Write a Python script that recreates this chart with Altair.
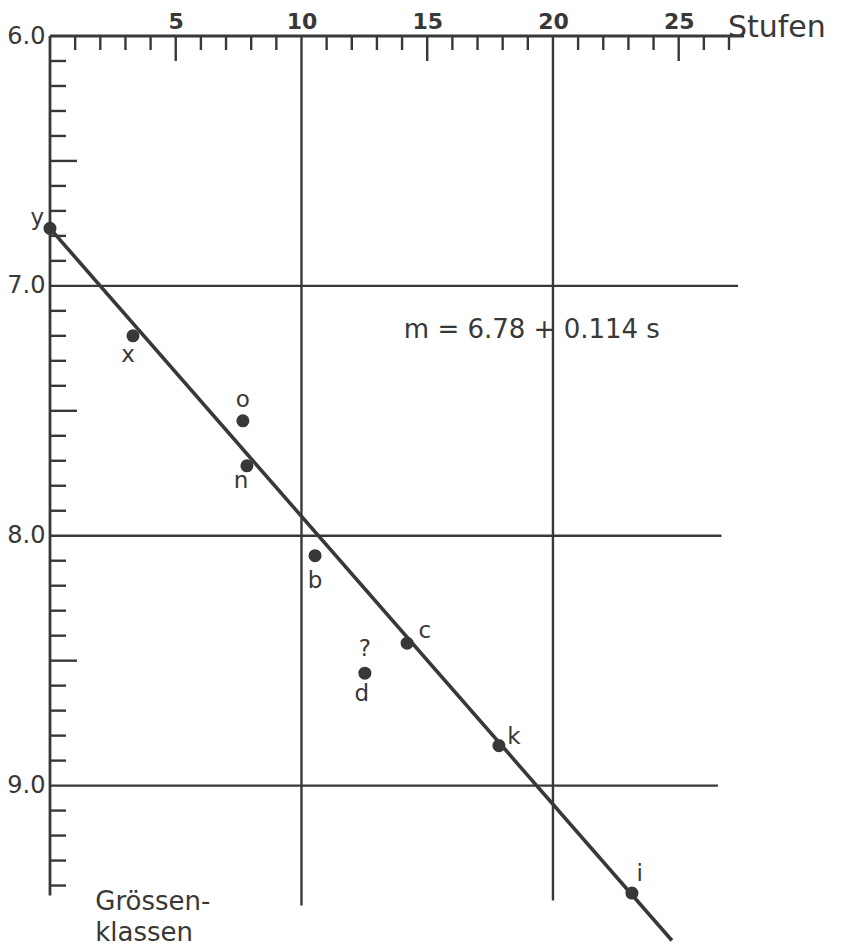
import altair as alt
import pandas as pd

# ---------------- data ----------------
point_names = ["y", "x", "o", "n", "b", "c", "d", "k", "i"]
point_s = [0.0, 3.3, 7.67, 7.83, 10.54, 14.2, 12.52, 17.85, 23.14]
point_m = [6.77, 7.20, 7.54, 7.72, 8.08, 8.43, 8.55, 8.84, 9.43]

label_text = ["y", "x", "o", "n", "b", "c", "?", "d", "k", "i"]
label_s = [-0.5, 3.1, 7.67, 7.6, 10.54, 14.9, 12.52, 12.4, 18.45, 23.45]
label_m = [6.73, 7.275, 7.455, 7.78, 8.18, 8.38, 8.455, 8.635, 8.805, 9.355]

fit_s = [0.0, 24.73]
fit_m = [6.77, 9.62]

x_label_values = [5, 10, 15, 20, 25]
y_label_values = [6.0, 7.0, 8.0, 9.0]

top_minor = [1, 2, 3, 4, 6, 7, 8, 9, 11, 12, 13, 14, 16, 17, 18, 19,
             21, 22, 23, 24, 26, 27]
top_major = [5, 15, 25]

left_minor = [6.1, 6.2, 6.3, 6.4, 6.6, 6.7, 6.8, 6.9,
              7.1, 7.2, 7.3, 7.4, 7.6, 7.7, 7.8, 7.9,
              8.1, 8.2, 8.3, 8.4, 8.6, 8.7, 8.8, 8.9,
              9.1, 9.2, 9.3, 9.4]
left_major = [6.5, 7.5, 8.5]

vgrid_s = [10, 20]
vgrid_end = [9.48, 9.46]
hgrid_m = [7.0, 8.0, 9.0]
hgrid_end = [27.36, 26.7, 26.56]

frame_top_end = 27.6
frame_left_end = 9.44

equation = "m = 6.78 + 0.114 s"
eq_s, eq_m = 19.16, 7.176
xtitle, xtitle_s, xtitle_m = "Stufen", 26.96, 5.968
ytitle_lines = ["Grössen-", "klassen"]
ytitle_s = [1.8, 1.8]
ytitle_m = [9.465, 9.59]

# ---------------- styling ----------------
ink = "#383838"
FONT = "DejaVu Sans"

xs = alt.Scale(domain=[0, 27], nice=False, zero=False)
ys = alt.Scale(domain=[6.0, 9.65], nice=False, zero=False, reverse=True)

xaxis = alt.Axis(orient="top", values=x_label_values, ticks=False, domain=False,
                 grid=False, labelFontSize=22, labelFontWeight="bold",
                 labelFont=FONT, labelColor=ink, labelPadding=3, title=None,
                 labelFlush=False, labelOverlap=False)
yaxis = alt.Axis(orient="left", values=y_label_values, format=".1f", ticks=False,
                 domain=False, grid=False, labelFontSize=24, labelFont=FONT,
                 labelColor=ink, labelPadding=5, title=None, labelFlush=False,
                 labelOverlap=False)


def X(f):
    return alt.X(f, type="quantitative", scale=xs, axis=xaxis)


def Y(f):
    return alt.Y(f, type="quantitative", scale=ys, axis=yaxis)


# frame lines
top_line = alt.Chart(pd.DataFrame({"s0": [0.0], "s1": [frame_top_end], "m": [6.0]})).mark_rule(
    color=ink, strokeWidth=2.8).encode(x=X("s0"), x2="s1", y=Y("m"))
left_line = alt.Chart(pd.DataFrame({"s": [0.0], "m0": [6.0], "m1": [frame_left_end]})).mark_rule(
    color=ink, strokeWidth=2.8).encode(x=X("s"), y=Y("m0"), y2="m1")

# grid lines
vgrid = alt.Chart(pd.DataFrame({"s": vgrid_s, "m0": [6.0, 6.0], "m1": vgrid_end})).mark_rule(
    color=ink, strokeWidth=2.4).encode(x=X("s"), y=Y("m0"), y2="m1")
hgrid = alt.Chart(pd.DataFrame({"m": hgrid_m, "s0": [0.0, 0.0, 0.0], "s1": hgrid_end})).mark_rule(
    color=ink, strokeWidth=2.4).encode(y=Y("m"), x=X("s0"), x2="s1")

# ticks
tminor = alt.Chart(pd.DataFrame({"s": top_minor})).mark_rule(color=ink, strokeWidth=2.4).encode(
    x=X("s"), y=alt.value(0), y2=alt.value(14))
tmajor = alt.Chart(pd.DataFrame({"s": top_major})).mark_rule(color=ink, strokeWidth=2.4).encode(
    x=X("s"), y=alt.value(0), y2=alt.value(25))
lminor = alt.Chart(pd.DataFrame({"m": left_minor})).mark_rule(color=ink, strokeWidth=2.4).encode(
    y=Y("m"), x=alt.value(0), x2=alt.value(16))
lmajor = alt.Chart(pd.DataFrame({"m": left_major})).mark_rule(color=ink, strokeWidth=2.4).encode(
    y=Y("m"), x=alt.value(0), x2=alt.value(27))

# regression line
fit = alt.Chart(pd.DataFrame({"s": fit_s, "m": fit_m})).mark_line(
    color=ink, strokeWidth=3.6).encode(x=X("s"), y=Y("m"))

# points
pts = alt.Chart(pd.DataFrame({"name": point_names, "s": point_s, "m": point_m})).mark_circle(
    size=170, color=ink, opacity=1).encode(x=X("s"), y=Y("m"))

labels = alt.Chart(pd.DataFrame({"t": label_text, "s": label_s, "m": label_m})).mark_text(
    font=FONT, fontSize=23, color=ink, align="center", baseline="middle").encode(
    x=X("s"), y=Y("m"), text="t:N")

eq = alt.Chart(pd.DataFrame({"t": [equation], "s": [eq_s], "m": [eq_m]})).mark_text(
    font=FONT, fontSize=26, color=ink, align="center", baseline="middle").encode(
    x=X("s"), y=Y("m"), text="t:N")

xt = alt.Chart(pd.DataFrame({"t": [xtitle], "s": [xtitle_s], "m": [xtitle_m]})).mark_text(
    font=FONT, fontSize=30, color=ink, align="left", baseline="middle").encode(
    x=X("s"), y=Y("m"), text="t:N")

yt = alt.Chart(pd.DataFrame({"t": ytitle_lines, "s": ytitle_s, "m": ytitle_m})).mark_text(
    font=FONT, fontSize=26, color=ink, align="left", baseline="middle").encode(
    x=X("s"), y=Y("m"), text="t:N")

chart = alt.layer(
    hgrid, vgrid, top_line, left_line, tminor, tmajor, lminor, lmajor,
    fit, pts, labels, eq, xt, yt
).properties(
    width=679, height=912,
    padding={"left": 42, "top": 28, "right": 104, "bottom": 0},
    autosize=alt.AutoSizeParams(type="none"),
    background="white",
).configure_view(stroke=None)

chart.save("out.html", embed_options={"renderer": "svg", "actions": False})
